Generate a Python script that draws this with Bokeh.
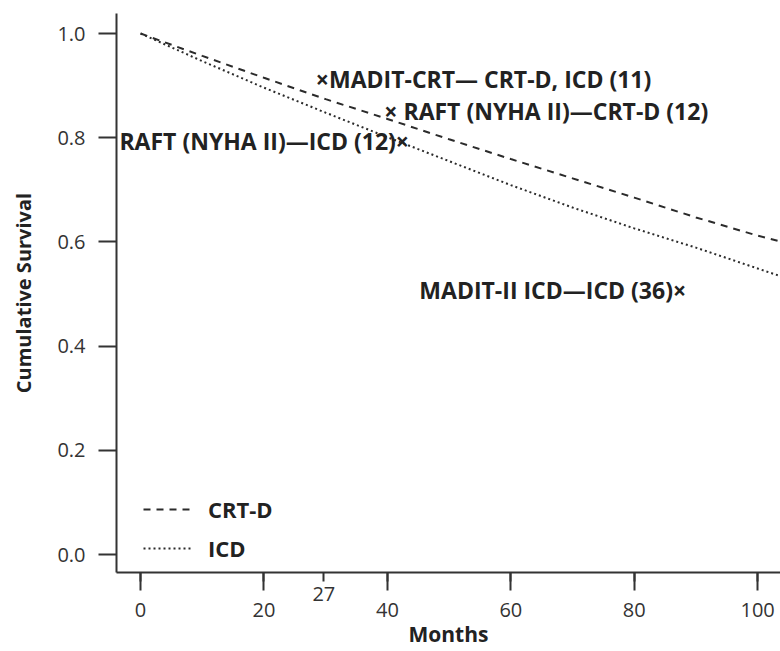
from bokeh.plotting import figure
from bokeh.models import FixedTicker, Legend, LegendItem, Range1d
from bokeh.core.properties import value
from bokeh.embed import file_html
from bokeh.resources import INLINE

# ---- data ----
months = [0, 10, 20, 30, 40, 50, 60, 70, 80, 90, 100, 104]
crt_d = [1.000, 0.957, 0.915, 0.874, 0.836, 0.797, 0.759, 0.722, 0.685, 0.647, 0.612, 0.600]
icd = [1.000, 0.947, 0.896, 0.848, 0.801, 0.755, 0.709, 0.666, 0.626, 0.589, 0.549, 0.533]

x_ticks = [0, 20, 40, 60, 80, 100]
x_tick_labels = ["0", "20", "40", "60", "80", "100"]
x_extra_tick = 29.7
x_extra_label = "27"
y_ticks = [0.0, 0.2, 0.4, 0.6, 0.8, 1.0]
y_tick_labels = ["0.0", "0.2", "0.4", "0.6", "0.8", "1.0"]

ann_text = ["×MADIT-CRT— CRT-D, ICD (11)", "× RAFT (NYHA II)—CRT-D (12)",
            "RAFT (NYHA II)—ICD (12)×", "MADIT-II ICD—ICD (36)×"]
ann_x = [28.4, 39.5, 43.5, 88.4]
ann_y = [0.913, 0.852, 0.793, 0.508]
ann_align = ["left", "left", "right", "right"]

FONT = "Open Sans"
INK = "#2b2b2b"
AXC = "#333333"
X0, X1 = -3.9, 103.7
Y0, Y1 = -0.0345, 1.0384

p = figure(width=780, height=651, output_backend="svg", toolbar_location=None,
           x_range=Range1d(X0, X1), y_range=Range1d(Y0, Y1),
           min_border_left=116, min_border_right=0, min_border_top=13, min_border_bottom=79)
p.outline_line_color = None
p.grid.visible = False
p.background_fill_color = "white"

r1 = p.line(months, crt_d, line_color=INK, line_width=2, line_dash="7 6")
r2 = p.line(months, icd, line_color=INK, line_width=2, line_dash="2 3")

for ax in (p.xaxis[0], p.yaxis[0]):
    ax.axis_line_color = AXC
    ax.axis_line_width = 2
    ax.major_tick_line_color = AXC
    ax.major_tick_line_width = 2
    ax.major_tick_in = 0
    ax.major_label_text_font = FONT
    ax.major_label_text_font_size = "20px"
    ax.major_label_text_color = AXC
    ax.axis_label_text_font = FONT
    ax.axis_label_text_font_style = "bold"
    ax.axis_label_text_color = "#222222"

# x axis: every tick is a short major tick (carries the label); the long ticks
# at 0,20,...,100 are drawn as minor ticks on top; "27" sits one line higher.
xa = p.xaxis[0]
xa.ticker = FixedTicker(ticks=sorted(x_ticks + [x_extra_tick]), minor_ticks=x_ticks)
xa.major_tick_out = 9
xa.minor_tick_in = 0
xa.minor_tick_out = 18
xa.minor_tick_line_color = AXC
xa.minor_tick_line_width = 2
overrides = {t: "\u00a0\n" + s for t, s in zip(x_ticks, x_tick_labels)}
overrides[x_extra_tick] = x_extra_label
xa.major_label_overrides = overrides
xa.major_label_text_line_height = 0.62
xa.major_label_standoff = -11
xa.axis_label = "Months"
xa.axis_label_standoff = -6
xa.axis_label_text_font_size = "21px"
xa.axis_label_text_line_height = 0.8

ya = p.yaxis[0]
ya.ticker = FixedTicker(ticks=y_ticks)
ya.major_tick_out = 18
ya.minor_tick_line_color = None
ya.major_label_overrides = {t: s for t, s in zip(y_ticks, y_tick_labels)}
ya.major_label_standoff = 13
ya.axis_label = "Cumulative Survival"
ya.axis_label_standoff = 17
ya.axis_label_text_font_size = "20px"

for t, x, y, al in zip(ann_text, ann_x, ann_y, ann_align):
    p.text(x=[x], y=[y], text=[t], text_align=al, text_baseline="middle",
           text_font=value(FONT), text_font_size="23px", text_font_style="bold",
           text_color="#222222")

legend = Legend(items=[LegendItem(label="CRT-D", renderers=[r1]),
                       LegendItem(label="ICD", renderers=[r2])],
                location=(27, 9), padding=0, margin=0, spacing=9,
                glyph_width=50, glyph_height=22, label_height=22, label_standoff=15,
                label_text_font=FONT, label_text_font_size="22px",
                label_text_font_style="bold", label_text_color="#222222",
                border_line_color=None, background_fill_alpha=0)
p.add_layout(legend)

open("out.html", "w").write(file_html(p, INLINE))
